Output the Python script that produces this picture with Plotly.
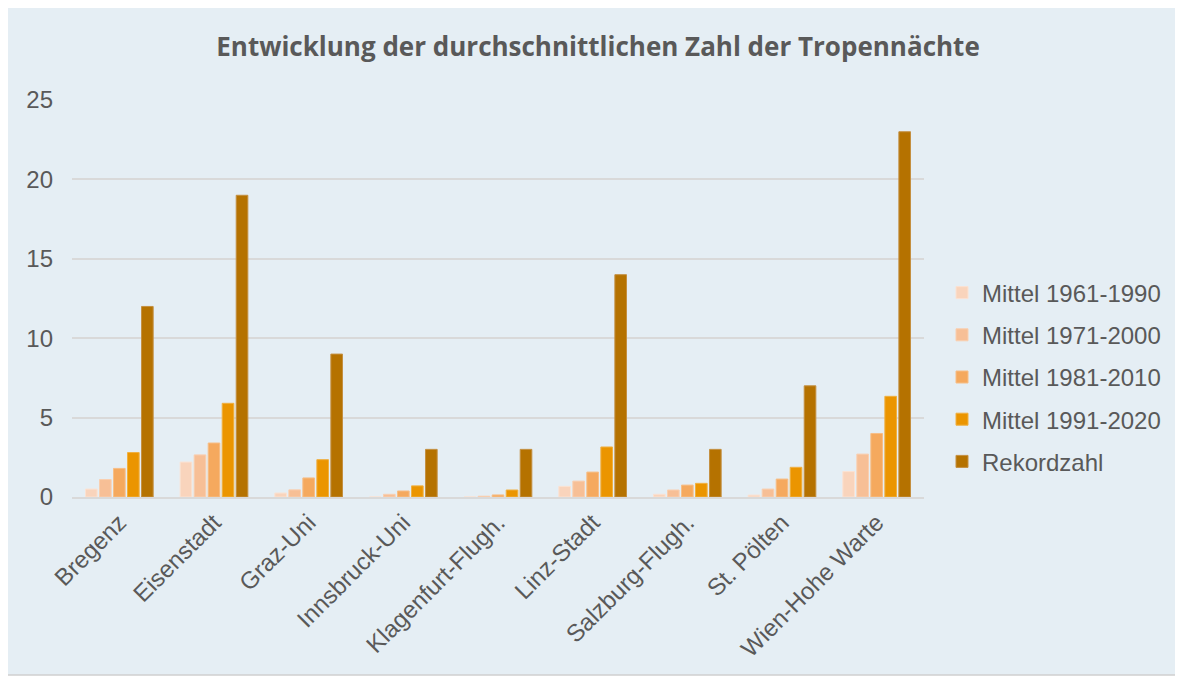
import plotly.graph_objects as go

stations = ["Bregenz", "Eisenstadt", "Graz-Uni", "Innsbruck-Uni", "Klagenfurt-Flugh.",
            "Linz-Stadt", "Salzburg-Flugh.", "St. Pölten", "Wien-Hohe Warte"]
mittel_1961_1990 = [0.5, 2.2, 0.25, 0.0, 0.0, 0.67, 0.17, 0.12, 1.6]
mittel_1971_2000 = [1.1, 2.65, 0.45, 0.17, 0.05, 1.0, 0.44, 0.5, 2.7]
mittel_1981_2010 = [1.8, 3.4, 1.2, 0.38, 0.13, 1.57, 0.75, 1.13, 4.0]
mittel_1991_2020 = [2.8, 5.9, 2.35, 0.7, 0.44, 3.15, 0.86, 1.87, 6.34]
rekordzahl = [12, 19, 9, 3, 3, 14, 3, 7, 23]

series_names = ["Mittel 1961-1990", "Mittel 1971-2000", "Mittel 1981-2010",
                "Mittel 1991-2020", "Rekordzahl"]
series_values = [mittel_1961_1990, mittel_1971_2000, mittel_1981_2010,
                 mittel_1991_2020, rekordzahl]
colors = ["#F9D4BC", "#F7BF96", "#F5A95E", "#EB9500", "#B57200"]
outlines = ["#FBE2D2", "#F9CFB0", "#F7BE86", "#F0B040", "#C48F40"]

fig = go.Figure()
for name, vals, c, oc in zip(series_names, series_values, colors, outlines):
    fig.add_trace(go.Bar(
        x=stations, y=vals, name=name, legendgroup=name,
        marker=dict(color=c, line=dict(color=oc, width=1)),
    ))

# page body has an 8px margin, so figure coords = screen coords - 8
OFF = 8
W0, W1 = 72 - OFF, 924 - OFF
H0, H1 = 100 - OFF, 497 - OFF
pw, ph = W1 - W0, H1 - H0

def px(x):
    return (x - OFF - W0) / pw

def py(y):
    return (H1 - (y - OFF)) / ph

fig.update_layout(
    width=1183, height=677,
    margin=dict(l=W0, r=1183 - W1, t=H0, b=677 - H1, pad=0),
    paper_bgcolor="white",
    plot_bgcolor="rgba(0,0,0,0)",
    barmode="group", bargap=0.26, bargroupgap=0.17,
    font=dict(family="Liberation Sans, Arial, sans-serif", color="#595959", size=24),
    title=dict(
        text="<b>Entwicklung der durchschnittlichen Zahl der Tropennächte</b>",
        x=px(598), xanchor="center", xref="paper",
        y=1 - (47 - OFF) / 677, yanchor="middle",
        font=dict(family="Open Sans, sans-serif", size=26, color="#595959"),
    ),
    showlegend=True,
    legend=dict(
        x=px(942), xanchor="left", y=py(377), yanchor="middle",
        bgcolor="rgba(0,0,0,0)", font=dict(size=24, color="#595959"),
        tracegroupgap=8, itemwidth=30,
    ),
    shapes=[dict(
        type="rect", xref="paper", yref="paper",
        x0=px(4), x1=px(1180), y0=py(675), y1=py(7),
        fillcolor="#E5EEF4", line=dict(color="#D0D0D0", width=1.5), layer="below",
    )],
)
fig.update_xaxes(
    tickangle=-45, showgrid=False, showline=True, linecolor="#D9D9D9", linewidth=2,
    ticks="", tickfont=dict(size=24, color="#595959"),
)
fig.update_yaxes(
    range=[0, 25], tickvals=[0, 5, 10, 15, 20, 25], showgrid=True,
    gridcolor="#D9D9D9", gridwidth=2, zeroline=False, showline=False,
    ticks="", ticklen=0, ticklabelstandoff=18, tickfont=dict(size=24, color="#595959"),
)

fig.write_html("out.html")
